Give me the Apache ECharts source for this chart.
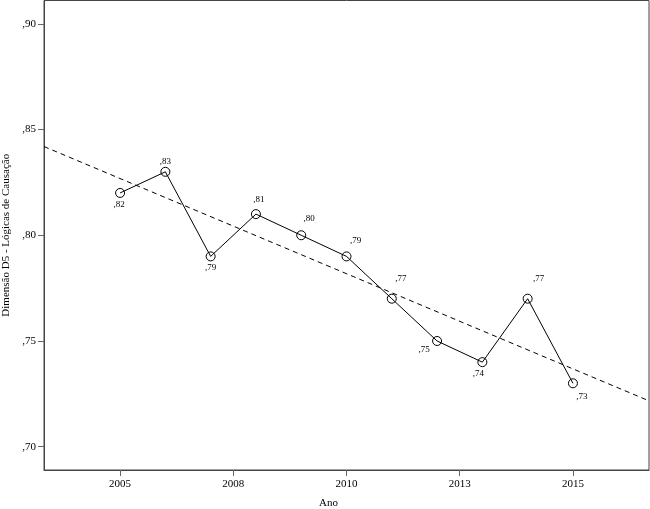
<!DOCTYPE html>
<html>
<head>
<meta charset="utf-8">
<script src="https://cdn.jsdelivr.net/npm/echarts@6/dist/echarts.min.js"></script>
<style>
html,body{margin:0;padding:0;background:#fff;}
#chart{width:650px;height:509px;}
</style>
</head>
<body>
<div id="chart"></div>
<script>
// ---- data ----
var years = [2005, 2006, 2007, 2008, 2009, 2010, 2011, 2012, 2013, 2014, 2015];
var values = [0.82, 0.83, 0.79, 0.81, 0.80, 0.79, 0.77, 0.75, 0.74, 0.77, 0.73];
var xTickValues = [2005, 2007.5, 2010, 2012.5, 2015];
var yTickValues = [0.70, 0.75, 0.80, 0.85, 0.90];
var xTitle = 'Ano';
var yTitle = 'Dimensão D5 - Lógicas de Causação';

// ---- layout / style ----
var xMin = 2003.32, xMax = 2016.68;
var yMin = 0.689, yMax = 0.911;
var labelOffsets = [[-1,12],[0,-10],[0,11],[3,-14],[8,-17],[9,-16],[9,-20],[-13,9],[-4,11],[11,-20],[9,13]];
var FONT = 'Liberation Serif';

function fmt(v){ return v.toFixed(2).replace(/^0\./, ','); }

// least squares fit line (as in the reference)
var n = years.length, mx = 0, my = 0;
for (var i = 0; i < n; i++){ mx += years[i]; my += values[i]; }
mx /= n; my /= n;
var sxy = 0, sxx = 0;
for (var i = 0; i < n; i++){ sxy += (years[i]-mx)*(values[i]-my); sxx += (years[i]-mx)*(years[i]-mx); }
var slope = sxy / sxx, icpt = my - slope*mx;
var fitData = [[xMin, icpt + slope*xMin], [xMax, icpt + slope*xMax]];

var pts = years.map(function(y, i){
  return {
    value: [y, values[i]],
    label: { offset: labelOffsets[i] }
  };
});

var chart = echarts.init(document.getElementById('chart'), null, {renderer:'canvas'});
chart.setOption({
  animation: false,
  backgroundColor: '#fff',
  grid: { left: 44, right: 1, top: 0.5, bottom: 39, show: true, borderColor: '#444', borderWidth: 1,
    containLabel: false, outerBoundsMode: 'none' },
  xAxis: {
    type: 'value', min: xMin, max: xMax,
    name: xTitle, nameLocation: 'middle', nameGap: 28,
    nameTextStyle: { fontFamily: FONT, fontSize: 11, color: '#000', padding: [0, 36, 0, 0] },
    axisLine: { show: true, lineStyle: { color: '#444', width: 1 } },
    axisTick: { show: true, length: 6, lineStyle: { color: '#666' }, customValues: xTickValues },
    axisLabel: { customValues: xTickValues, margin: 9, fontFamily: FONT, fontSize: 11, color: '#000',
      formatter: function(v){ return String(Math.round(v)); } },
    splitLine: { show: false }
  },
  yAxis: {
    type: 'value', min: yMin, max: yMax,
    name: yTitle, nameLocation: 'middle', nameGap: 32, nameRotate: 90,
    nameTextStyle: { fontFamily: FONT, fontSize: 11, color: '#000' },
    axisLine: { show: true, lineStyle: { color: '#444', width: 1 } },
    axisTick: { show: true, length: 6, lineStyle: { color: '#666' }, customValues: yTickValues },
    axisLabel: { customValues: yTickValues, margin: 8, fontFamily: FONT, fontSize: 11, color: '#000',
      formatter: function(v){ return fmt(v); } },
    splitLine: { show: false }
  },
  series: [
    {
      type: 'line', data: fitData, symbol: 'none', silent: true, z: 2,
      lineStyle: { color: '#000', width: 1, type: [5, 4] }
    },
    {
      type: 'line', data: pts, z: 3,
      symbol: 'circle', symbolSize: 9,
      itemStyle: { color: 'rgba(255,255,255,0)', borderColor: '#000', borderWidth: 1 },
      lineStyle: { color: '#000', width: 1 },
      label: { show: true, position: 'inside', align: 'center', verticalAlign: 'middle',
        fontFamily: FONT, fontSize: 9, color: '#000',
        formatter: function(p){ return fmt(p.value[1]); } }
    }
  ]
});
</script>
</body>
</html>
